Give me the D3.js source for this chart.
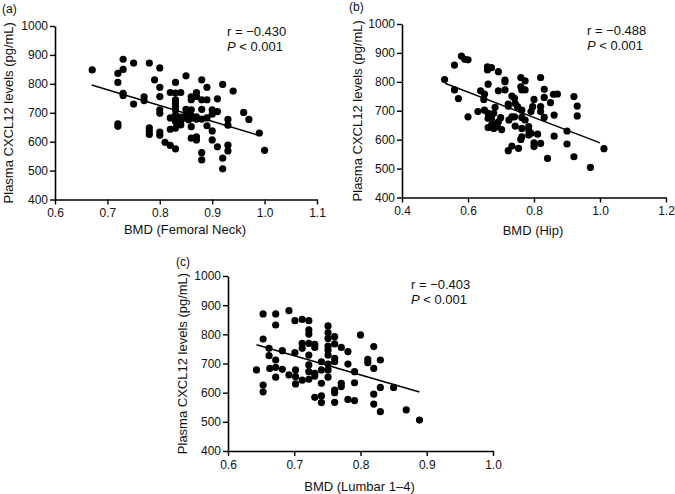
<!DOCTYPE html>
<html><head><meta charset="utf-8">
<script src="https://cdn.jsdelivr.net/npm/d3@7"></script>
<style>
html,body{margin:0;padding:0;background:#fff;}
svg{display:block;font-family:"Liberation Sans",Arial,sans-serif;}
</style></head>
<body><svg id="c" width="675" height="494"></svg>
<script>
// ---- Data ----
const yTicks = [400, 500, 600, 700, 800, 900, 1000];
const xTicksA = [0.6, 0.7, 0.8, 0.9, 1.0, 1.1];
const xTicksB = [0.4, 0.6, 0.8, 1.0, 1.2];
const xTicksC = [0.6, 0.7, 0.8, 0.9, 1.0];

// Panel (a): BMD Femoral Neck vs CXCL12
const femoralNeck = [
[0.671,848],[0.72,836],[0.73,850],[0.73,885],[0.75,872],[0.78,872],[0.80,855],[0.72,805],
[0.73,767],[0.73,760],[0.75,730],[0.77,755],[0.77,742],[0.79,814],[0.80,788],[0.80,756],
[0.80,710],[0.80,698],[0.72,662],[0.72,653],[0.78,648],[0.78,637],[0.78,625],[0.80,633],
[0.80,622],[0.81,598],[0.82,587],[0.83,575],[0.82,643],[0.83,647],[0.83,805],[0.82,770],
[0.83,768],[0.83,745],[0.83,722],[0.83,693],[0.84,770],[0.84,670],[0.82,682],[0.85,828],
[0.85,712],[0.86,745],[0.86,755],[0.86,710],[0.86,690],[0.86,652],[0.86,612],[0.87,617],
[0.87,606],[0.87,770],[0.87,756],[0.88,814],[0.88,745],[0.88,712],[0.88,678],[0.88,562],
[0.88,537],[0.89,788],[0.89,745],[0.89,682],[0.89,655],[0.90,710],[0.90,695],[0.90,637],
[0.90,606],[0.91,748],[0.91,704],[0.91,582],[0.92,798],[0.92,543],[0.92,506],[0.93,677],
[0.93,657],[0.93,588],[0.93,568],[0.94,775],[0.96,701],[0.97,677],[0.99,630],[1.00,570],
[0.84,685],[0.85,682],[0.855,676],[0.865,682],[0.87,678],[0.85,693],[0.83,670],[0.84,658],
[0.87,686],[0.83,735],[0.83,710]
];
const fitA = [[0.67,796],[0.99,621]];

// Panel (b): BMD Hip vs CXCL12
const hip = [
[0.529,808],[0.559,858],[0.58,889],[0.59,878],[0.60,876],[0.559,772],[0.571,742],[0.60,679],
[0.63,697],[0.638,769],[0.65,758],[0.648,739],[0.65,702],[0.661,792],[0.659,852],[0.659,841],
[0.671,849],[0.661,691],[0.661,674],[0.661,642],[0.671,674],[0.678,691],[0.682,712],[0.682,654],
[0.692,835],[0.692,769],[0.692,662],[0.699,676],[0.702,635],[0.712,806],[0.712,772],[0.712,800],
[0.722,723],[0.722,716],[0.724,668],[0.722,562],[0.733,751],[0.733,578],[0.741,743],[0.741,679],
[0.743,647],[0.753,570],[0.760,815],[0.760,783],[0.763,772],[0.763,702],[0.763,677],[0.763,639],
[0.760,601],[0.763,610],[0.773,803],[0.773,772],[0.773,668],[0.784,633],[0.784,616],[0.791,697],
[0.796,714],[0.80,739],[0.80,589],[0.80,576],[0.811,619],[0.82,815],[0.82,714],[0.82,697],
[0.82,587],[0.831,774],[0.831,746],[0.831,677],[0.841,535],[0.85,728],[0.859,757],[0.871,758],
[0.861,685],[0.861,612],[0.90,630],[0.90,585],[0.921,749],[0.921,541],[0.931,716],[0.931,682],
[0.971,504],[1.012,569],[0.671,650],[0.689,645],[0.678,639],[0.733,679],[0.743,725],[0.75,714],
[0.784,645],[0.791,622]
];
const fitB = [[0.53,795],[1.00,589]];

// Panel (c): BMD Lumbar 1-4 vs CXCL12
const lumbar = [
[0.643,678],[0.653,870],[0.653,784],[0.653,626],[0.653,603],[0.662,752],[0.662,727],[0.663,683],
[0.672,870],[0.672,832],[0.672,712],[0.672,687],[0.672,653],[0.682,744],[0.682,680],[0.692,881],
[0.692,661],[0.701,847],[0.701,737],[0.702,678],[0.702,655],[0.702,630],[0.712,851],[0.712,769],
[0.712,752],[0.712,643],[0.722,847],[0.722,815],[0.722,801],[0.722,769],[0.722,729],[0.722,695],
[0.722,672],[0.722,646],[0.731,766],[0.731,755],[0.731,666],[0.731,657],[0.731,584],[0.741,706],
[0.741,678],[0.741,632],[0.741,589],[0.741,566],[0.751,829],[0.751,806],[0.751,786],[0.751,760],
[0.751,746],[0.751,729],[0.751,698],[0.751,678],[0.751,653],[0.761,792],[0.761,767],[0.761,718],
[0.761,706],[0.761,609],[0.761,600],[0.761,567],[0.771,755],[0.771,632],[0.771,621],[0.781,741],
[0.781,698],[0.781,577],[0.791,672],[0.791,634],[0.791,573],[0.80,798],[0.811,714],[0.811,703],
[0.82,758],[0.82,683],[0.82,595],[0.82,561],[0.83,712],[0.83,618],[0.83,535],[0.85,618],
[0.869,541],[0.889,506]
];
const fitC = [[0.643,764],[0.889,602]];

const panels = [
  {tag:"(a)", data:femoralNeck, fit:fitA, xd:[0.6,1.1], xt:xTicksA, xr:[55,317], yr:[199.5,26],
   xlabel:"BMD (Femoral Neck)", r:"r = \u22120.430", tagPos:[2,13], ylabX:13, xlabY:234, annX:227, annY:36},
  {tag:"(b)", data:hip, fit:fitB, xd:[0.4,1.2], xt:xTicksB, xr:[402,666], yr:[197.5,24],
   xlabel:"BMD (Hip)", r:"r = \u22120.488", tagPos:[349,11], ylabX:362, xlabY:235, annX:587, annY:35},
  {tag:"(c)", data:lumbar, fit:fitC, xd:[0.6,1.0], xt:xTicksC, xr:[228,493], yr:[451,276],
   xlabel:"BMD (Lumbar 1\u20134)", r:"r = \u22120.403", tagPos:[176,266], ylabX:187, xlabY:491, annX:411, annY:289}
];

const svg = d3.select("#c");
const fmtX = d => d.toFixed(1);
const fmtY = d3.format("d");

panels.forEach(p => {
  const x = d3.scaleLinear().domain(p.xd).range(p.xr);
  const y = d3.scaleLinear().domain([400,1000]).range(p.yr);
  const g = svg.append("g");

  const xa = g.append("g").attr("transform",`translate(0,${p.yr[0]})`)
    .call(d3.axisBottom(x).tickValues(p.xt).tickFormat(fmtX).tickSize(5).tickSizeOuter(0));
  const ya = g.append("g").attr("transform",`translate(${p.xr[0]},0)`)
    .call(d3.axisLeft(y).tickValues(yTicks).tickFormat(fmtY).tickSize(5).tickSizeOuter(0));
  [xa, ya].forEach(a => {
    a.selectAll("path").attr("stroke","#000").attr("stroke-width",1.6);
    a.selectAll("line").attr("stroke","#000").attr("stroke-width",1.4);
    a.selectAll("text").attr("fill","#111").style("font-size","12px")
      .style("font-family","'Liberation Sans',Arial,sans-serif");
  });
  ya.selectAll("text").attr("x",-7);
  xa.selectAll("text").attr("y",9);

  g.selectAll("circle.pt").data(p.data).enter().append("circle")
    .attr("class","pt").attr("cx",d=>x(d[0])).attr("cy",d=>y(d[1])).attr("r",3.6).attr("fill","#000");

  g.append("path").datum(p.fit)
    .attr("d", d3.line().x(d=>x(d[0])).y(d=>y(d[1])))
    .attr("stroke","#000").attr("stroke-width",1.5).attr("fill","none");

  g.append("text").attr("x",p.tagPos[0]).attr("y",p.tagPos[1]).text(p.tag)
    .style("font-size","12px").attr("fill","#111");

  const ymid = (p.yr[0]+p.yr[1])/2;
  g.append("text").attr("transform",`translate(${p.ylabX},${ymid}) rotate(-90)`)
    .attr("text-anchor","middle").text("Plasma CXCL12 levels (pg/mL)")
    .style("font-size","13px").attr("fill","#111");

  g.append("text").attr("x",(p.xr[0]+p.xr[1])/2 - 1).attr("y",p.xlabY).attr("text-anchor","middle")
    .text(p.xlabel).style("font-size","13px").attr("fill","#111");

  g.append("text").attr("x",p.annX).attr("y",p.annY).text(p.r).style("font-size","13px").attr("fill","#111");
  const t = g.append("text").attr("x",p.annX).attr("y",p.annY+15).style("font-size","13px").attr("fill","#111");
  t.append("tspan").style("font-style","italic").text("P");
  t.append("tspan").text(" < 0.001");
});
</script></body></html>
